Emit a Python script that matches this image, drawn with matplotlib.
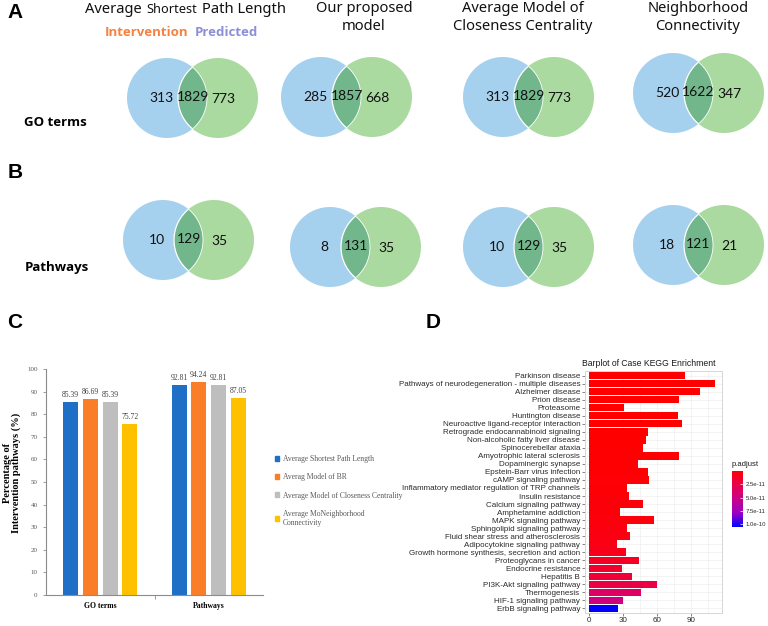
import numpy as np
import matplotlib
matplotlib.use("Agg")
import matplotlib.pyplot as plt
from matplotlib.patches import Circle, Patch
from matplotlib.colors import LinearSegmentedColormap, Normalize
from matplotlib.cm import ScalarMappable

# ---- data ----
# Venn counts: only intervention / shared / only predicted
go_only_int = [313, 285, 313, 520]
go_shared = [1829, 1857, 1829, 1622]
go_only_pred = [773, 668, 773, 347]
pw_only_int = [10, 8, 10, 18]
pw_shared = [129, 131, 129, 121]
pw_only_pred = [35, 35, 35, 21]

# panel C
groups = ["GO terms", "Pathways"]
bar_series = ["Average Shortest Path Length", "Averag Model of BR",
              "Average Model of Closeness Centrality",
              "Average MoNeighborhood\nConnectivity"]
pct_go = [85.39, 86.69, 85.39, 75.72]
pct_pw = [92.81, 94.24, 92.81, 87.05]

# panel D
kegg_terms = ["Parkinson disease", "Pathways of neurodegeneration - multiple diseases",
              "Alzheimer disease", "Prion disease", "Proteasome", "Huntington disease",
              "Neuroactive ligand-receptor interaction", "Retrograde endocannabinoid signaling",
              "Non-alcoholic fatty liver disease", "Spinocerebellar ataxia",
              "Amyotrophic lateral sclerosis", "Dopaminergic synapse",
              "Epstein-Barr virus infection", "cAMP signaling pathway",
              "Inflammatory mediator regulation of TRP channels", "Insulin resistance",
              "Calcium signaling pathway", "Amphetamine addiction", "MAPK signaling pathway",
              "Sphingolipid signaling pathway", "Fluid shear stress and atherosclerosis",
              "Adipocytokine signaling pathway", "Growth hormone synthesis, secretion and action",
              "Proteoglycans in cancer", "Endocrine resistance", "Hepatitis B",
              "PI3K-Akt signaling pathway", "Thermogenesis", "HIF-1 signaling pathway",
              "ErbB signaling pathway"]
kegg_count = [85, 111, 98, 79, 31, 78, 82, 52, 50, 48, 79, 43, 52, 53, 34,
              35, 48, 27, 57, 34, 36, 25, 33, 44, 29, 38, 60, 46, 30, 26]
kegg_padj = [5e-15, 1e-14, 3e-14, 6e-14, 1e-13, 1.5e-13, 2.5e-13, 3.5e-13, 5e-13, 7e-13,
             9e-13, 1.2e-12, 1.5e-12, 1.8e-12, 2.2e-12, 2.6e-12, 3e-12, 3.5e-12, 4e-12, 5e-12,
             6e-12, 7e-12, 9e-12, 1.2e-11, 1.5e-11, 1.8e-11, 2.3e-11, 3.5e-11, 4.7e-11, 1.05e-10]

W, H = 768, 626
fig = plt.figure(figsize=(W / 100, H / 100), dpi=100)

# background axes in pixel coords for panels A/B and all free text
ax0 = fig.add_axes([0, 0, 1, 1])
ax0.set_xlim(0, W)
ax0.set_ylim(H, 0)
ax0.axis("off")

BLUE = "#A6D1EE"
GREEN = "#ABDAA1"
OVER = "#72B68C"


def venn(cx, cy, a, ab, b, r=40, d=51):
    c1 = Circle((cx, cy), r, fc=BLUE, ec="none")
    c2 = Circle((cx + d, cy), r, fc=GREEN, ec="none")
    ax0.add_patch(c1)
    ax0.add_patch(c2)
    ov = Circle((cx + d, cy), r, fc=OVER, ec="white", lw=0.9)
    ax0.add_patch(ov)
    ov.set_clip_path(c1)
    e1 = Circle((cx, cy), r, fc="none", ec="white", lw=0.6)
    ax0.add_patch(e1)
    e1.set_clip_path(c2)
    kw = dict(fontsize=10, family="Lato", ha="center", va="center", color="#111111")
    ax0.text(cx - 6, cy, str(a), **kw)
    ax0.text(cx + d / 2, cy - 1, str(ab), **kw)
    ax0.text(cx + d + 5, cy + 1, str(b), **kw)


# panel A / B
rowA_x = [167, 321, 503, 673]
rowA_y = [98, 97, 97, 93]
rowB_x = [163, 330, 503, 673]
rowB_y = [240, 247, 247, 245]
for i in range(4):
    venn(rowA_x[i], rowA_y[i], go_only_int[i], go_shared[i], go_only_pred[i])
    venn(rowB_x[i], rowB_y[i], pw_only_int[i], pw_shared[i], pw_only_pred[i])

tkw = dict(fontsize=10.6, family="Noto Sans", color="#111111", va="baseline")
ax0.text(142, 13, "Average", ha="right", **tkw)
ax0.text(172, 13, "Shortest", ha="center", fontsize=9.2, family="Noto Sans",
         color="#111111", va="baseline")
ax0.text(202, 13, "Path Length", ha="left", **tkw)
for xc, lines in [(364, ["Our proposed", "model"]),
                  (523, ["Average Model of", "Closeness Centrality"]),
                  (698, ["Neighborhood", "Connectivity"])]:
    ax0.text(xc, 12, lines[0], ha="center", **tkw)
    ax0.text(xc, 30, lines[1], ha="center", **tkw)

ax0.text(188, 33, "Intervention", ha="right", va="center", fontsize=9.5,
         family="Open Sans", weight="bold", color="#F7813E")
ax0.text(195, 33, "Predicted", ha="left", va="center", fontsize=9.5,
         family="Open Sans", weight="bold", color="#8C8FD6")
ax0.text(55, 123, "GO terms", ha="center", va="center", fontsize=9.5,
         family="Open Sans", weight="bold")
ax0.text(57, 267, "Pathways", ha="center", va="center", fontsize=9.5,
         family="Open Sans", weight="bold")

for lab, x, y in [("A", 15, 13), ("B", 15, 172), ("C", 15, 322), ("D", 433, 323)]:
    ax0.text(x, y, lab, ha="center", va="center", fontsize=15, weight="bold",
             family="Liberation Sans")

# panel C
serif = "Liberation Serif"
axc = fig.add_axes([46 / W, (H - 595) / H, 217 / W, 226 / H])
bar_cols = ["#1E6FC5", "#FA7E28", "#BEBEBE", "#FFC000"]
x = np.arange(len(groups))
offs = (np.arange(len(bar_series)) - 1.5) * 0.182
for i, (name, col) in enumerate(zip(bar_series, bar_cols)):
    vals = [pct_go[i], pct_pw[i]]
    bars = axc.bar(x + offs[i], vals, width=0.14, color=col, label=name)
    for bb, v in zip(bars, vals):
        axc.text(bb.get_x() + bb.get_width() / 2, v + 1.3, f"{v:.2f}", ha="center",
                 va="bottom", fontsize=5.5, family=serif, color="#404040")
axc.set_xlim(-0.5, 1.5)
axc.set_ylim(0, 100)
axc.set_yticks(np.arange(0, 101, 10))
axc.set_xticks(x, groups)
axc.set_xticks([0.5], minor=True)
for s in ["top", "right"]:
    axc.spines[s].set_visible(False)
for s in ["left", "bottom"]:
    axc.spines[s].set_color("#8C8C8C")
    axc.spines[s].set_linewidth(0.8)
axc.tick_params(axis="y", labelsize=5, labelcolor="#595959", color="#8C8C8C",
                length=2.5, width=0.6)
axc.tick_params(axis="x", which="major", length=0, pad=5)
axc.tick_params(axis="x", which="minor", length=3, color="#8C8C8C", width=0.6)
for t in axc.get_yticklabels():
    t.set_family(serif)
for t in axc.get_xticklabels():
    t.set_family(serif)
    t.set_fontsize(5.5)
    t.set_weight("bold")
axc.set_ylabel("Percentage of\nIntervention pathways (%)", family=serif, weight="bold",
               fontsize=7.5, linespacing=0.95)
axc.yaxis.set_label_coords(-0.115, 0.54)
handles = [Patch(color=c) for c in bar_cols]
fig.legend(handles, bar_series, loc="upper left", bbox_to_anchor=(268 / W, 1 - 448 / H),
           frameon=False, handlelength=0.6, handleheight=0.6, handletextpad=0.4,
           labelspacing=1.35, prop={"family": serif, "size": 5.5}, labelcolor="#595959")

# panel D
cmap = LinearSegmentedColormap.from_list(
    "rb", ["#FF0000", "#E8004F", "#C90088", "#9A00C3", "#0000FF"])
norm = Normalize(min(kegg_padj), max(kegg_padj))
axd = fig.add_axes([585 / W, (H - 613) / H, 137 / W, 242 / H])
n = len(kegg_terms)
ypos = np.arange(n)[::-1]
axd.barh(ypos, kegg_count, height=0.9, color=cmap(norm(np.array(kegg_padj))), zorder=2)
axd.set_yticks(ypos, kegg_terms)
axd.set_ylim(-0.6, n - 0.4)
mx = max(kegg_count)
axd.set_xlim(-0.03 * mx, 1.055 * mx)
axd.set_xticks([0, 30, 60, 90])
axd.set_xticks([15, 45, 75, 105], minor=True)
axd.grid(True, which="both", color="#EFEFEF", lw=0.5, zorder=0)
axd.set_axisbelow(True)
for s in axd.spines.values():
    s.set_color("#D6D6D6")
    s.set_linewidth(0.7)
axd.tick_params(labelsize=5.8, labelcolor="#2B2B2B", color="#555555", length=2, width=0.5,
                pad=1.5)
axd.tick_params(axis="x", pad=0.8)
axd.tick_params(which="minor", length=0)
for t in axd.get_xticklabels() + axd.get_yticklabels():
    t.set_family("Liberation Sans")
fig.text(582 / W, 1 - 363 / H, "Barplot of Case KEGG Enrichment", ha="left", va="center",
         fontsize=6.2, family="Liberation Sans", color="#1A1A1A")

cax = fig.add_axes([732 / W, (H - 527) / H, 11 / W, 56 / H])
cb = fig.colorbar(ScalarMappable(norm=norm, cmap=cmap), cax=cax)
cb.outline.set_visible(False)
cax.invert_yaxis()
cb.set_ticks([2.5e-11, 5e-11, 7.5e-11, 1e-10])
cb.set_ticklabels(["2.5e-11", "5.0e-11", "7.5e-11", "1.0e-10"])
cax.tick_params(labelsize=4.3, length=2, color="white", width=0.5, pad=2,
                direction="in", labelcolor="#2B2B2B")
for t in cax.get_yticklabels():
    t.set_family("Liberation Sans")
fig.text(732 / W, 1 - 464 / H, "p.adjust", ha="left", va="center", fontsize=5.5,
         family="Liberation Sans", color="#1A1A1A")

fig.savefig("out.png", dpi=100)
